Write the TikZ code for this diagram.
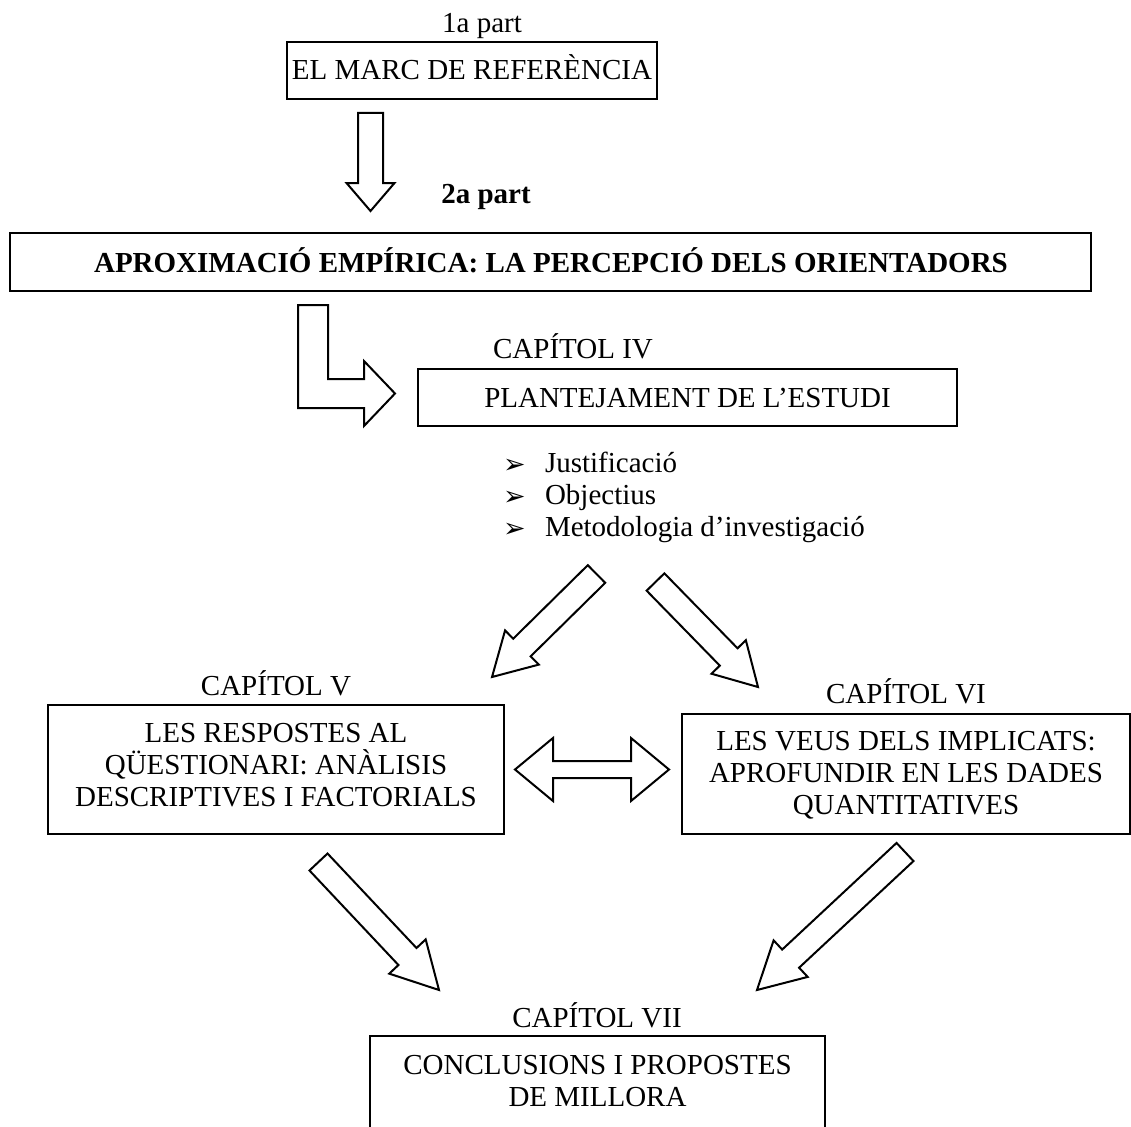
\documentclass[tikz,border=0pt]{standalone}
\usepackage{fontspec}
\setmainfont{Liberation Serif}
\newfontfamily\symbolfont{DejaVu Sans}
\usetikzlibrary{calc}

\tikzset{
  box/.style={draw, line width=2.2pt, inner sep=0pt, outer sep=0pt},
  txt/.style={inner sep=0pt, outer sep=0pt, anchor=base, font=\fontsize{29}{32}\selectfont},
  btxt/.style={txt, font=\fontsize{29}{32}\selectfont\bfseries},
  bullet/.style={inner sep=0pt, anchor=base west, font=\symbolfont\fontsize{27}{28}\selectfont},
  arrowline/.style={draw, line width=2pt, fill=white, line join=miter},
}

% block arrow from #1 to #2: shaft half width #3, head half width #4, head length #5
\newcommand\blockarr[5]{%
  \coordinate (ba-base) at ($(#2)!#5!(#1)$);
  \draw[arrowline] ($(#1)!#3!90:(#2)$) -- ($(ba-base)!#3!90:(#2)$)
    -- ($(ba-base)!#4!90:(#2)$) -- (#2) -- ($(ba-base)!#4!-90:(#2)$)
    -- ($(ba-base)!#3!-90:(#2)$) -- ($(#1)!#3!-90:(#2)$) -- cycle;}

\begin{document}
\begin{tikzpicture}[x=1pt, y=-1pt]
\useasboundingbox (0,0) rectangle (1131,1126);
\clip (0,0) rectangle (1131,1126);

% ---- part one
\node[txt] (p1) at (482,33) {1a part};
\node[box, minimum width=370pt, minimum height=57pt] (marc) at (472,70.5) {};
\node[txt] (marct) at (472,80) {EL MARC DE REFERÈNCIA};

\coordinate (d1s) at (370.5,113);
\coordinate (d1e) at (370.5,211);
\blockarr{d1s}{d1e}{12.5pt}{24pt}{28pt}

\node[btxt] (p2) at (486,203) {2a part};

% ---- part two
\node[box, minimum width=1081pt, minimum height=58pt] (aprox) at (550.5,262) {};
\node[btxt] (aproxt) at (551,272) {APROXIMACIÓ EMPÍRICA: LA PERCEPCIÓ DELS ORIENTADORS};

% bent arrow into chapter IV
\draw[arrowline] (298,305) -- (328,305) -- (328,379) -- (364,379) -- (364,361)
  -- (395,393.5) -- (364,426) -- (364,408) -- (298,408) -- cycle;

% ---- chapter IV
\node[txt] (c4) at (573,358) {CAPÍTOL IV};
\node[box, minimum width=539pt, minimum height=57pt] (plant) at (687.5,397.5) {};
\node[txt] (plantt) at (687.5,407.5) {PLANTEJAMENT DE L’ESTUDI};

\node[bullet] (b1) at (503,473) {➢};
\node[bullet] (b2) at (503,505) {➢};
\node[bullet] (b3) at (503,537) {➢};
\node[txt, anchor=base west] (l1) at (545,472) {Justificació};
\node[txt, anchor=base west] (l2) at (545,504) {Objectius};
\node[txt, anchor=base west] (l3) at (545,536) {Metodologia d’investigació};

\coordinate (u1s) at (596.5,574);
\coordinate (u1e) at (492,677);
\blockarr{u1s}{u1e}{12.4pt}{24pt}{42pt}
\coordinate (u2s) at (655.5,582);
\coordinate (u2e) at (758,687);
\blockarr{u2s}{u2e}{12.4pt}{24pt}{42pt}

% ---- chapters V and VI
\node[txt] (c5) at (276,695) {CAPÍTOL V};
\node[box, minimum width=456pt, minimum height=129pt] (resp) at (276,769.5) {};
\node[txt] (r1) at (276,742) {LES RESPOSTES AL};
\node[txt] (r2) at (276,774) {QÜESTIONARI: ANÀLISIS};
\node[txt] (r3) at (276,806) {DESCRIPTIVES I FACTORIALS};

\node[txt] (c6) at (906,703) {CAPÍTOL VI};
\node[box, minimum width=448pt, minimum height=120pt] (veus) at (906,774) {};
\node[txt] (v1) at (906,750) {LES VEUS DELS IMPLICATS:};
\node[txt] (v2) at (906,782) {APROFUNDIR EN LES DADES};
\node[txt] (v3) at (906,814) {QUANTITATIVES};

% two-headed arrow between V and VI
\draw[arrowline] (515,769.5) -- (553,738) -- (553,761) -- (631,761) -- (631,738)
  -- (669,769.5) -- (631,801) -- (631,778) -- (553,778) -- (553,801) -- cycle;

\coordinate (l1s) at (318.5,862);
\coordinate (l1e) at (439,990);
\blockarr{l1s}{l1e}{12.4pt}{25pt}{46pt}
\coordinate (l2s) at (905,852);
\coordinate (l2e) at (757,990);
\blockarr{l2s}{l2e}{12.4pt}{25pt}{46pt}

% ---- chapter VII
\node[txt] (c7) at (597,1027) {CAPÍTOL VII};
\node[box, minimum width=455pt, minimum height=120pt] (concl) at (597.5,1096) {};
\node[txt] (k1) at (597.5,1074) {CONCLUSIONS I PROPOSTES};
\node[txt] (k2) at (597.5,1106) {DE MILLORA};
\end{tikzpicture}
\end{document}
